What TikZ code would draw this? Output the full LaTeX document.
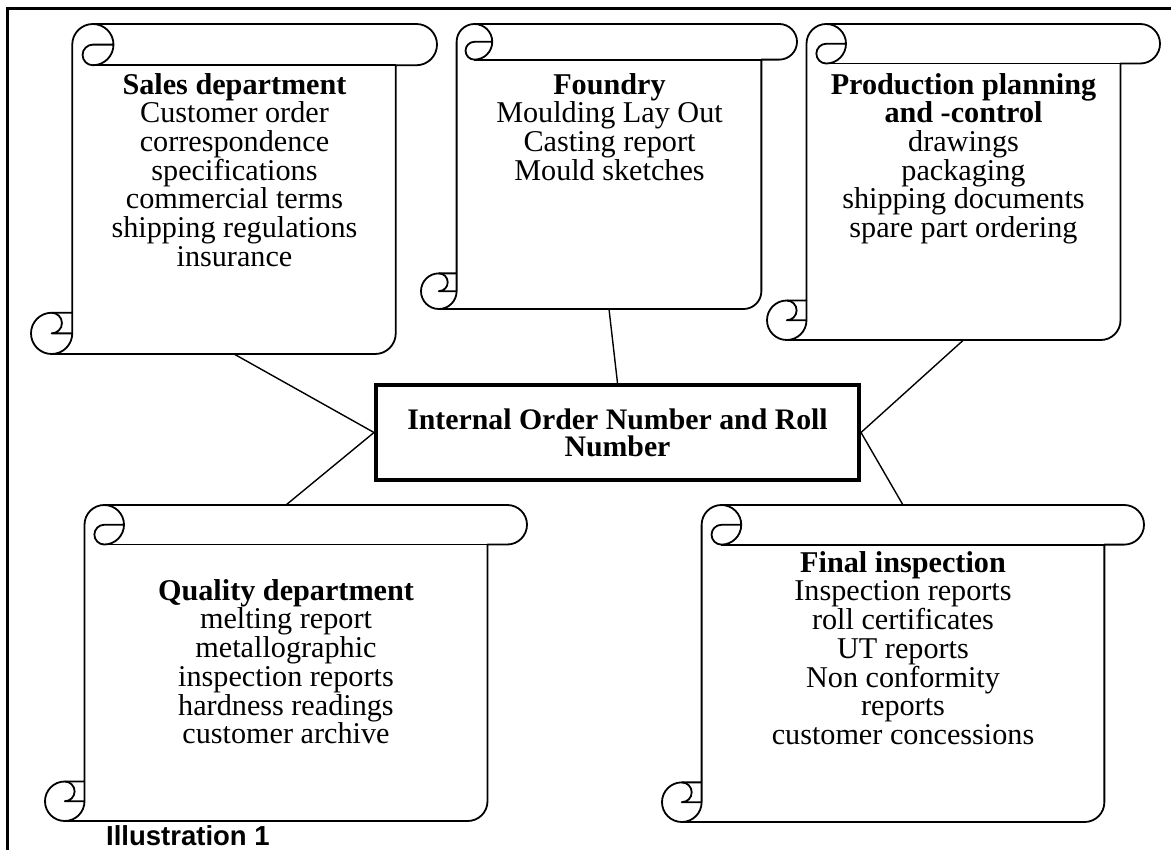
\documentclass[tikz,border=0pt]{standalone}
\usepackage{fontspec}
\setmainfont{Liberation Serif}
\newfontfamily\captionfont{Liberation Sans}

% Vertical scroll outline: #1 name, #2 left, #3 top, #4 right, #5 bottom (y grows downward)
\newcommand\vscroll[5]{%
  \pgfmathsetmacro\scL{#2}\pgfmathsetmacro\scT{#3}%
  \pgfmathsetmacro\scR{#4}\pgfmathsetmacro\scB{#5}%
  \pgfmathsetmacro\scC{0.125*min(#4-#2,#5-#3)}%
  \pgfmathsetmacro\scH{\scC/2}\pgfmathsetmacro\scQ{\scC/4}%
  \pgfmathsetmacro\scW{#4-#2}\pgfmathsetmacro\scHt{#5-#3}%
  % outline of sheet and top roll
  \draw[scrollline, fill=white]
    (\scL+\scC, \scB-\scC) -- (\scL+\scC, \scT+\scH)
    arc[start angle=180, end angle=90, radius=\scH pt]
    -- (\scR-\scH, \scT)
    arc[start angle=90, end angle=-90, radius=\scH pt]
    -- (\scR-\scC, \scT+\scC) -- (\scR-\scC, \scB-\scH)
    arc[start angle=0, end angle=-90, radius=\scH pt]
    -- (\scL+\scH, \scB)
    arc[start angle=-90, end angle=-270, radius=\scH pt]
    -- cycle;
  % curl of the top roll
  \draw[scrollline]
    (\scL+\scC+\scH, \scT)
    arc[start angle=90, end angle=-90, radius=\scH pt]
    arc[start angle=-90, end angle=-270, radius=\scQ pt]
    -- (\scL+2*\scC, \scT+\scH);
  \draw[scrollline] (\scR-\scC, \scT+\scC) -- (\scL+\scC+\scH, \scT+\scC);
  % curl of the bottom roll
  \draw[scrollline]
    (\scL+\scH, \scB-\scC)
    arc[start angle=90, end angle=-90, radius=\scQ pt]
    -- (\scL+\scC, \scB-\scH);
  \draw[scrollline]
    (\scL+\scH, \scB)
    arc[start angle=-90, end angle=0, radius=\scH pt]
    -- (\scL+\scC, \scB-\scC);
  % invisible area used as connector target
  \node[area, minimum width=\scW pt, minimum height=\scHt pt]
    (#1) at ({(#2+#4)/2}, {(#3+#5)/2}) {};
}

\begin{document}
\begin{tikzpicture}[x=1pt, y=-1pt,
  scrollline/.style={line width=1.8pt, line join=round},
  link/.style={line width=1.4pt},
  frameline/.style={line width=3pt},
  area/.style={inner sep=0pt, outer sep=0pt},
  hubbox/.style={draw, line width=4pt, minimum width=483pt, minimum height=95pt,
    inner sep=0pt, align=center, font=\bfseries\fontsize{29.8}{27}\selectfont},
  scrolltext/.style={anchor=north, align=center, inner sep=0pt,
    font=\fontsize{30.2}{28.7}\selectfont}]

\useasboundingbox (0,0) rectangle (1171,850);

% page frame (top and left rules)
\coordinate (frameTL) at (7,8.5);
\coordinate (frameTR) at (1171,8.5);
\coordinate (frameBL) at (7,850);
\draw[frameline] (frameTR) -- (frameTL) -- (frameBL);

% scrolls
\vscroll{sales}{31}{24}{437}{354}
\vscroll{foundry}{421}{24}{797}{309}
\vscroll{prod}{767}{24}{1160}{340}
\vscroll{quality}{45}{505}{527}{821}
\vscroll{final}{662}{505}{1144}{822}

% central box
\node[hubbox] (hub) at (617.5,432.5) {Internal Order Number and Roll\\Number};

% texts on the scrolls
\node[scrolltext] (salesText) at (234.5,72)
  {\rule{0pt}{22pt}\textbf{Sales department}\\Customer order\\correspondence\\specifications\\commercial terms\\shipping regulations\\insurance};
\node[scrolltext] (foundryText) at (609.5,72)
  {\rule{0pt}{22pt}\textbf{Foundry}\\Moulding Lay Out\\Casting report\\Mould sketches};
\node[scrolltext] (prodText) at (963.5,72)
  {\rule{0pt}{22pt}\textbf{Production planning}\\\textbf{and -control}\\drawings\\packaging\\shipping documents\\spare part ordering};
\node[scrolltext] (qualityText) at (286,578)
  {\rule{0pt}{22pt}\textbf{Quality department}\\melting report\\metallographic\\inspection reports\\hardness readings\\customer archive};
\node[scrolltext] (finalText) at (903,550)
  {\rule{0pt}{22pt}\textbf{Final inspection}\\Inspection reports\\roll certificates\\UT reports\\Non conformity\\reports\\customer concessions};

% connectors
\draw[link] (sales.south) -- (hub.west);
\draw[link] (quality.north) -- (hub.west);
\draw[link] (foundry.south) -- (hub.north);
\draw[link] (prod.south) -- (hub.east);
\draw[link] (final.north) -- (hub.east);

% caption
\node[anchor=base west, inner sep=0pt, font=\captionfont\bfseries\fontsize{27.5}{31}\selectfont]
  (caption) at (106,845) {Illustration 1};

\end{tikzpicture}
\end{document}
